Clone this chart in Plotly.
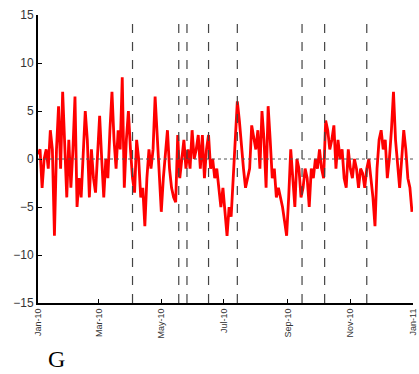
import plotly.graph_objects as go
import pandas as pd

start_date = "2010-01-01"
step_days = 2
values = [
    0.5, 1, -3, 0, 1, -1, 3, 1, -8, 1,
    5.5, -1, 7, 2, -4, 2, -3, 1, 6.5, -5,
    -2, -4, 1, 5, 2, -4, 1, -2, -3.5, 1,
    4.5, 0, -4, 0, -2, 3, 7, 2, -1, 3,
    1, 8.5, -3, 2, 5, 1, -2, -3.5, 2, 0,
    -4, -3, -7, -2, 1, -1, 1, 6.5, 2, -1,
    -5.5, -2, 1, 3, -1, -3, -4, -4.5, 2.5, -2,
    0, 2, -1, 1, -1, 3, 0, 1, 2.5, -1,
    2.5, -2, 1, 2.5, -1, 0, -2, -1, -3, -5,
    -3, -6, -8, -5, -6, -2, 2, 6, 4, 1,
    -1, -3, -2, -1, 3.5, 2, 1, 3, -1, 5,
    2, -3, 5.5, 2, -2, -1, -4, -3, -4, -5,
    -6.5, -8, -4, 1, -2, -5, 0, -1, -4, -3,
    -1, -2, -5, -1, -2, 0, -1, 1, -1, -2,
    4, 3, 1, 2, 3.5, -1, 2, 0, 1, -2,
    -3, 1, -1, -2, 0, -1, -3, -1, -1.5, -3,
    -1, 0, -2, -4, -7, -1, 2, 3, 1, 2,
    -2, 0, 3, 7, 2, -1, -3, 0, 3, 1,
    -2, -3, -5.5,
]
event_dates = ["2010-04-03", "2010-05-18", "2010-05-26", "2010-06-16",
               "2010-07-14", "2010-09-15", "2010-10-07", "2010-11-17"]
panel_label = "G"
y_ticks = [-15, -10, -5, 0, 5, 10, 15]

dates = pd.date_range(start_date, periods=len(values), freq=f"{step_days}D")

fig = go.Figure()
fig.add_trace(go.Scatter(x=dates, y=values, mode="lines",
                         line=dict(color="#ff0000", width=2.8),
                         showlegend=False, hoverinfo="skip"))

fig.add_shape(type="line", xref="x", yref="y", x0="2010-01-01", x1="2011-01-01",
              y0=0, y1=0, line=dict(color="#555555", width=1, dash="dot"))
for d in event_dates:
    fig.add_shape(type="line", xref="x", yref="paper", x0=d, x1=d, y0=0, y1=1,
                  line=dict(color="#444444", width=1.2, dash="dash"))

fig.add_annotation(text=panel_label, xref="paper", yref="paper",
                   x=0.05, y=-0.195, xanchor="center", yanchor="middle",
                   showarrow=False,
                   font=dict(family="Liberation Serif, Times New Roman, serif",
                             size=24, color="#000000"))

fig.update_layout(
    width=419, height=374,
    margin=dict(l=38, r=6, t=15, b=71),
    paper_bgcolor="white", plot_bgcolor="white",
    font=dict(family="Liberation Sans, Arial, sans-serif", color="#333333"),
)
fig.update_xaxes(
    range=["2010-01-01", "2011-01-01"],
    tickformat="%b-%y", dtick="M2", tick0="2010-01-01",
    tickangle=-90, tickfont=dict(size=9),
    ticks="inside", ticklen=4, tickcolor="#000000",
    showline=True, linecolor="#000000", linewidth=2,
    showgrid=False, zeroline=False, mirror=False, automargin=False,
)
fig.update_yaxes(
    range=[-15, 15], tickvals=y_ticks,
    tickfont=dict(size=12),
    ticks="inside", ticklen=4, tickcolor="#000000",
    showline=True, linecolor="#000000", linewidth=2,
    showgrid=False, zeroline=False, mirror=False, automargin=False,
)

fig.write_html("out.html")
